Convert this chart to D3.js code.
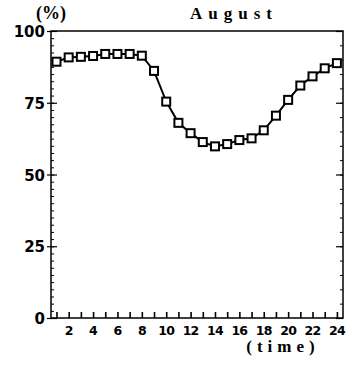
<!DOCTYPE html>
<html>
<head>
<meta charset="utf-8">
<script src="https://cdn.jsdelivr.net/npm/d3@7"></script>
<style>
  html, body { margin: 0; padding: 0; background: #fff; }
  svg { display: block; }
</style>
</head>
<body>
<svg id="chart" width="352" height="365"></svg>
<script>
const hours = [1,2,3,4,5,6,7,8,9,10,11,12,13,14,15,16,17,18,19,20,21,22,23,24];
const values = [89.3,90.8,91.0,91.3,92.0,92.0,92.0,91.4,86.1,75.4,68.0,64.4,61.3,59.8,60.6,62.0,62.6,65.4,70.5,76.0,81.0,84.2,87.0,88.8];
const xTickLabels = [2,4,6,8,10,12,14,16,18,20,22,24];
const yTickLabels = [0,25,50,75,100];
const title = "August";
const yUnit = "(%)";
const xUnit = "(time)";

(function () {
const svg = d3.select("#chart");
const mLeft = 51, mRight = 343, mTop = 31, mBottom = 318;

const x = d3.scaleLinear().domain([0.55, 24.5]).range([mLeft, mRight]);
const y = d3.scaleLinear().domain([0, 100]).range([mBottom, mTop]);

// frame
svg.append("rect").attr("x", mLeft).attr("y", mTop)
  .attr("width", mRight - mLeft).attr("height", mBottom - mTop)
  .attr("fill", "none").attr("stroke", "#000").attr("stroke-width", 1.5);

// left axis with minor ticks
const leftAxis = d3.axisLeft(y).tickValues(d3.range(0, 100.1, 2.5)).tickSize(-3).tickFormat("");
svg.append("g").attr("transform", `translate(${mLeft},0)`).call(leftAxis)
  .call(g => { g.select(".domain").remove(); g.selectAll("line").attr("stroke", "#000").attr("stroke-width", 1); });
const leftMajor = d3.axisLeft(y).tickValues(yTickLabels).tickSize(4).tickFormat("");
svg.append("g").attr("transform", `translate(${mLeft},0)`).call(leftMajor)
  .call(g => { g.select(".domain").remove(); g.selectAll("line").attr("stroke", "#000").attr("stroke-width", 1.2); });
const leftMajorIn = d3.axisLeft(y).tickValues(yTickLabels).tickSize(-6).tickFormat("");
svg.append("g").attr("transform", `translate(${mLeft},0)`).call(leftMajorIn)
  .call(g => { g.select(".domain").remove(); g.selectAll("line").attr("stroke", "#000").attr("stroke-width", 1.2); });

// right axis
const rightAxis = d3.axisRight(y).tickValues(d3.range(0, 100.1, 5)).tickSize(-3).tickFormat("");
svg.append("g").attr("transform", `translate(${mRight},0)`).call(rightAxis)
  .call(g => { g.select(".domain").remove(); g.selectAll("line").attr("stroke", "#000"); });
const rightMajor = d3.axisRight(y).tickValues(yTickLabels).tickSize(-7).tickFormat("");
svg.append("g").attr("transform", `translate(${mRight},0)`).call(rightMajor)
  .call(g => { g.select(".domain").remove(); g.selectAll("line").attr("stroke", "#000").attr("stroke-width", 1.2); });

// y labels
svg.append("g").selectAll("text").data(yTickLabels).join("text")
  .attr("x", mLeft - 6).attr("y", d => y(d) + 6)
  .attr("text-anchor", "end")
  .attr("font-family", "DejaVu Sans, sans-serif")
  .attr("font-weight", "bold").attr("font-size", 15)
  .text(d => d);

// bottom axis ticks (every hour), inward
const bottomAxis = d3.axisBottom(x).tickValues(hours).tickSize(-6).tickFormat("");
svg.append("g").attr("transform", `translate(0,${mBottom})`).call(bottomAxis)
  .call(g => { g.select(".domain").remove(); g.selectAll("line").attr("stroke", "#000").attr("stroke-width", 1.6); });

// x labels
svg.append("g").selectAll("text").data(xTickLabels).join("text")
  .attr("x", d => x(d)).attr("y", 335)
  .attr("text-anchor", "middle")
  .attr("font-family", "DejaVu Sans, sans-serif")
  .attr("font-weight", "bold").attr("font-size", 12.5)
  .attr("letter-spacing", -0.8)
  .text(d => d);

// unit labels and title
svg.append("text").attr("x", 51).attr("y", 19).attr("text-anchor", "middle")
  .attr("font-family", "Liberation Serif, serif").attr("font-weight", "bold").attr("font-size", 18)
  .text(yUnit);
svg.append("text").attr("x", 234).attr("y", 19).attr("text-anchor", "middle")
  .attr("font-family", "Liberation Serif, serif").attr("font-weight", "bold").attr("font-size", 17)
  .attr("letter-spacing", 6)
  .text(title);
svg.append("text").attr("x", 283).attr("y", 352).attr("text-anchor", "middle")
  .attr("font-family", "Liberation Serif, serif").attr("font-weight", "bold").attr("font-size", 17)
  .attr("letter-spacing", 5)
  .text(xUnit);

// line
const line = d3.line().x((d, i) => x(hours[i])).y(d => y(d));
svg.append("path").datum(values).attr("d", line)
  .attr("fill", "none").attr("stroke", "#000").attr("stroke-width", 2);

// markers
svg.append("g").selectAll("rect").data(values).join("rect")
  .attr("x", (d, i) => x(hours[i]) - 4).attr("y", d => y(d) - 4)
  .attr("width", 8).attr("height", 8)
  .attr("fill", "#fff").attr("stroke", "#000").attr("stroke-width", 2);
})();
</script>
</body>
</html>
